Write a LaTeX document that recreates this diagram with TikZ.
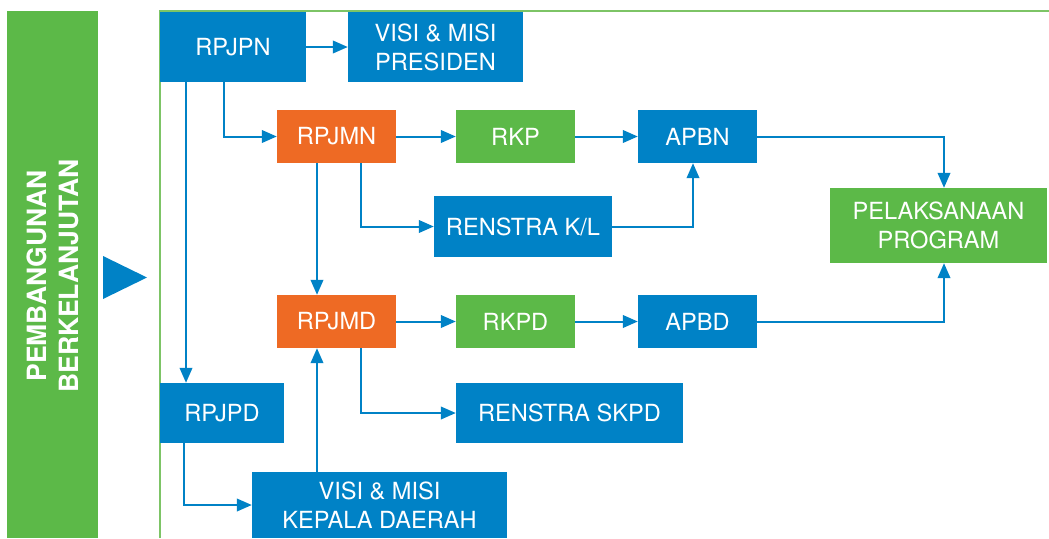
\documentclass[tikz,border=0pt]{standalone}
\usepackage{fontspec}
\setmainfont{TeX Gyre Heros}
\usetikzlibrary{arrows.meta}
\definecolor{cblue}{RGB}{0,130,198}
\definecolor{corange}{RGB}{238,106,36}
\definecolor{cgreen}{RGB}{92,185,72}
\definecolor{clgreen}{RGB}{125,196,102}
\tikzset{
  box/.style={inner sep=0pt, text=white, align=center,
    font=\fontsize{23.6}{29}\selectfont},
  bbox/.style={box, fill=cblue},
  obox/.style={box, fill=corange},
  gbox/.style={box, fill=cgreen},
  arr/.style={draw=cblue, line width=2pt, -{Triangle[length=15pt,width=12.6pt]}},
}
\begin{document}
\begin{tikzpicture}[x=1pt,y=-1pt]
\useasboundingbox (0,0) rectangle (1049,538);
% left bar
\node[fill=cgreen, inner sep=0pt, minimum width=91pt, minimum height=527pt] (bar) at (52.5,274.5) {};
\node[rotate=90, text=white, align=center, inner sep=0pt,
  font=\fontsize{26.5}{32.5}\selectfont\bfseries] (bartext) at (53,276) {PEMBANGUNAN\\BERKELANJUTAN};
% triangle
\fill[cblue] (103,256) -- (147,277.5) -- (103,299) -- cycle;
% frame line
\draw[clgreen, line width=1.3pt] (160,538) -- (160,11) -- (1049,11);
% boxes
\node[bbox, minimum width=146pt, minimum height=70pt] (rpjpn) at (233,47) {RPJPN};
\node[bbox, minimum width=175pt, minimum height=70pt] (visip) at (435.5,47) {VISI \& MISI\\PRESIDEN};
\node[obox, minimum width=119pt, minimum height=53pt] (rpjmn) at (336.5,136.5) {RPJMN};
\node[gbox, minimum width=119pt, minimum height=53pt] (rkp) at (515.5,136.5) {RKP};
\node[bbox, minimum width=119pt, minimum height=53pt] (apbn) at (697.5,136.5) {APBN};
\node[gbox, minimum width=217pt, minimum height=75pt] (pelaks) at (938.5,225.5) {PELAKSANAAN\\PROGRAM};
\node[bbox, minimum width=178pt, minimum height=61pt] (renkl) at (523,226.5) {RENSTRA K/L};
\node[obox, minimum width=119pt, minimum height=53pt] (rpjmd) at (336.5,321.5) {RPJMD};
\node[gbox, minimum width=119pt, minimum height=53pt] (rkpd) at (515.5,321.5) {RKPD};
\node[bbox, minimum width=119pt, minimum height=53pt] (apbd) at (697.5,321.5) {APBD};
\node[bbox, minimum width=227pt, minimum height=60pt] (renskpd) at (569.5,413) {RENSTRA SKPD};
\node[bbox, minimum width=124pt, minimum height=60pt] (rpjpd) at (222,413) {RPJPD};
\node[bbox, minimum width=255pt, minimum height=66pt] (visik) at (379.5,505) {VISI \& MISI\\KEPALA DAERAH};
% connectors
\draw[arr] (rpjpn.east) -- (visip.west);
\draw[arr] ([xshift=-9pt]rpjpn.south) |- (rpjmn.west);
\draw[arr] ([xshift=-47pt]rpjpn.south) -- ([xshift=-47pt]rpjpn.south |- rpjpd.north);
\draw[arr] (rpjmn.east) -- (rkp.west);
\draw[arr] (rkp.east) -- (apbn.west);
\draw[arr] (apbn.east) -| ([xshift=5.5pt]pelaks.north);
\draw[arr] ([xshift=-19.5pt]rpjmn.south) -- ([xshift=-19.5pt]rpjmd.north);
\draw[arr] ([xshift=24.5pt]rpjmn.south) |- (renkl.west);
\draw[arr] (renkl.east) -| ([xshift=-4.5pt]apbn.south);
\draw[arr] (rpjmd.east) -- (rkpd.west);
\draw[arr] (rkpd.east) -- (apbd.west);
\draw[arr] (apbd.east) -| ([xshift=5.5pt]pelaks.south);
\draw[arr] ([xshift=24.5pt]rpjmd.south) |- (renskpd.west);
\draw[arr] ([xshift=-38pt]rpjpd.south) |- (visik.west);
\draw[arr] ([xshift=-62.5pt]visik.north) -- ([xshift=-19.5pt]rpjmd.south);
\end{tikzpicture}
\end{document}
